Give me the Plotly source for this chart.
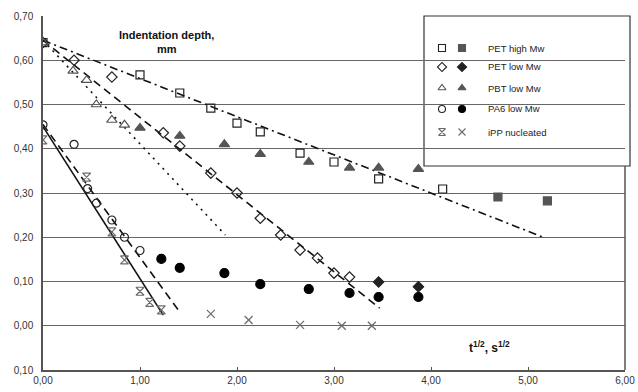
import plotly.graph_objects as go

# ---------------- data (x = t^1/2, y = indentation depth, mm) ----------------
pet_high_open_x = [0.0, 1.00, 1.41, 1.73, 2.00, 2.24, 2.65, 3.00, 3.46, 4.12]
pet_high_open_y = [0.640, 0.567, 0.526, 0.492, 0.458, 0.438, 0.390, 0.370, 0.332, 0.309]
pet_high_fill_x = [4.69, 5.20]
pet_high_fill_y = [0.291, 0.282]

pet_low_open_x = [0.0, 0.32, 0.71, 1.24, 1.41, 1.73, 2.00, 2.24, 2.45, 2.65, 2.83, 3.00, 3.16]
pet_low_open_y = [0.640, 0.600, 0.562, 0.436, 0.406, 0.345, 0.300, 0.243, 0.205, 0.171, 0.153, 0.119, 0.110]
pet_low_fill_x = [3.46, 3.87]
pet_low_fill_y = [0.099, 0.088]

pbt_open_x = [0.0, 0.31, 0.45, 0.55, 0.71, 0.84]
pbt_open_y = [0.640, 0.576, 0.555, 0.500, 0.465, 0.454]
pbt_fill_x = [1.00, 1.41, 1.87, 2.24, 2.74, 3.16, 3.46, 3.87]
pbt_fill_y = [0.447, 0.429, 0.410, 0.388, 0.370, 0.357, 0.357, 0.354]

pa6_open_x = [0.0, 0.32, 0.46, 0.55, 0.71, 0.84, 1.00]
pa6_open_y = [0.454, 0.410, 0.310, 0.277, 0.239, 0.200, 0.170]
pa6_fill_x = [1.22, 1.41, 1.87, 2.24, 2.74, 3.16, 3.46, 3.87]
pa6_fill_y = [0.151, 0.131, 0.119, 0.094, 0.083, 0.074, 0.065, 0.065]

ipp_open_x = [0.0, 0.45, 0.71, 0.84, 1.00, 1.10, 1.22]
ipp_open_y = [0.420, 0.336, 0.212, 0.149, 0.078, 0.053, 0.036]
ipp_thin_x = [1.73, 2.12, 2.65, 3.08, 3.39]
ipp_thin_y = [0.027, 0.013, 0.002, 0.000, 0.000]

# trend lines (end points)
trend_pet_high_x = [0.0, 5.18]
trend_pet_high_y = [0.645, 0.198]
trend_pet_low_x = [0.0, 3.47]
trend_pet_low_y = [0.645, 0.040]
trend_pbt_x = [0.0, 1.88]
trend_pbt_y = [0.645, 0.205]
trend_pa6_x = [0.0, 1.41]
trend_pa6_y = [0.455, 0.031]
trend_ipp_x = [0.0, 1.24]
trend_ipp_y = [0.450, 0.024]

y_tickvals = [0.7, 0.6, 0.5, 0.4, 0.3, 0.2, 0.1, 0.0, -0.1]
y_ticktext = ["0,70", "0,60", "0,50", "0,40", "0,30", "0,20", "0,10", "0,00", "0,10"]
x_tickvals = [0, 1, 2, 3, 4, 5, 6]
x_ticktext = ["0,00", "1,00", "2,00", "3,00", "4,00", "5,00", "6,00"]

legend_labels = ["PET high Mw", "PET low Mw", "PBT low Mw", "PA6 low Mw", "iPP nucleated"]
legend_open_symbols = ["square-open", "diamond-open", "triangle-up-open", "circle-open", "hourglass-open"]
legend_fill_symbols = ["square", "diamond", "triangle-up", "circle", "x-thin-open"]

# ---------------- styles ----------------
W, H = 638, 392
L, R, T, B = 43, 13, 16, 22
FONT = "Liberation Sans, Arial, sans-serif"
DARK = "#222222"
GREY = "#555555"
IPPC = "#6a6a6a"

fig = go.Figure()

def line(x, y, dash, width=1.6):
    fig.add_trace(go.Scatter(x=x, y=y, mode="lines", showlegend=False, hoverinfo="skip",
                             line=dict(color="#111111", width=width, dash=dash)))

line(trend_pet_high_x, trend_pet_high_y, "8px,4px,2px,4px")
line(trend_pet_low_x, trend_pet_low_y, "8px,5px")
line(trend_pbt_x, trend_pbt_y, "2px,5px")
line(trend_pa6_x, trend_pa6_y, "8px,5px")
line(trend_ipp_x, trend_ipp_y, "solid", 1.6)

def pts(x, y, symbol, color, size=8, lw=1.2):
    fig.add_trace(go.Scatter(x=x, y=y, mode="markers", showlegend=False,
                             marker=dict(symbol=symbol, size=size, color=color,
                                         line=dict(color=color, width=lw))))

pts(pet_high_open_x, pet_high_open_y, "square-open", DARK, 8)
pts(pet_high_fill_x, pet_high_fill_y, "square", GREY, 8)
pts(pet_low_open_x, pet_low_open_y, "diamond-open", DARK, 8)
pts(pet_low_fill_x, pet_low_fill_y, "diamond", DARK, 8)
pts(pbt_open_x, pbt_open_y, "triangle-up-open", GREY, 9)
pts(pbt_fill_x, pbt_fill_y, "triangle-up", GREY, 9)
pts(pa6_open_x, pa6_open_y, "circle-open", DARK, 8)
pts(pa6_fill_x, pa6_fill_y, "circle", "#000000", 9)
pts(ipp_open_x, ipp_open_y, "hourglass-open", IPPC, 8)
pts(ipp_thin_x, ipp_thin_y, "x-thin-open", IPPC, 8)

# ---------------- custom legend (box + markers on overlay axes) ----------------
plot_w = W - L - R
plot_h = H - T - B
def px_x(p):
    return (p - L) / plot_w
def px_y(p):
    return (H - B - p) / plot_h

legend_rows_px = [48, 67, 88, 109, 132]
legend_row_y = [px_y(p) for p in legend_rows_px]
legend_open_x = px_x(442)
legend_fill_x = px_x(462)
legend_text_x = px_x(486)

legend_colors_open = [DARK, DARK, GREY, DARK, IPPC]
legend_colors_fill = [GREY, DARK, GREY, "#000000", IPPC]
fig.add_trace(go.Scatter(x=[legend_open_x] * 5, y=legend_row_y, mode="markers", xaxis="x2", yaxis="y2",
                         showlegend=False, hoverinfo="skip",
                         marker=dict(symbol=legend_open_symbols, size=7, color=legend_colors_open,
                                     line=dict(color=legend_colors_open, width=1.1))))
fig.add_trace(go.Scatter(x=[legend_fill_x] * 5, y=legend_row_y, mode="markers", xaxis="x2", yaxis="y2",
                         showlegend=False, hoverinfo="skip",
                         marker=dict(symbol=legend_fill_symbols, size=7, color=legend_colors_fill,
                                     line=dict(color=legend_colors_fill, width=1.1))))

fig.add_shape(type="rect", xref="paper", yref="paper",
              x0=px_x(424), x1=px_x(630), y0=px_y(166), y1=px_y(16),
              fillcolor="white", line=dict(color="#333333", width=1.2), layer="between")

for lab, yy in zip(legend_labels, legend_row_y):
    fig.add_annotation(x=legend_text_x, y=yy, xref="paper", yref="paper", text=lab,
                       showarrow=False, xanchor="left", yanchor="middle",
                       font=dict(family=FONT, size=9.5, color="#222222"))

# title & axis label
fig.add_annotation(x=px_x(166), y=px_y(41.5), xref="paper", yref="paper",
                   text="<b>Indentation depth,<br>mm</b>", showarrow=False, align="center",
                   xanchor="center", yanchor="middle",
                   font=dict(family=FONT, size=11, color="#111111"))
fig.add_annotation(x=px_x(489), y=px_y(347), xref="paper", yref="paper",
                   text="<b>t<sup>1/2</sup>, s<sup>1/2</sup></b>", showarrow=False,
                   xanchor="center", yanchor="middle",
                   font=dict(family=FONT, size=12, color="#111111"))

fig.update_layout(
    width=W, height=H,
    margin=dict(l=L, r=R, t=T, b=B, pad=0, autoexpand=False),
    plot_bgcolor="white", paper_bgcolor="white",
    xaxis=dict(range=[0, 6], tickvals=x_tickvals, ticktext=x_ticktext, showgrid=False,
               automargin=False, ticklabeloverflow="allow",
               zeroline=False, showline=True, linecolor="#555555", linewidth=1.5, mirror=False,
               ticks="inside", ticklen=3, tickcolor="#555555",
               tickfont=dict(family=FONT, size=10, color="#333333")),
    yaxis=dict(range=[-0.1, 0.7], tickvals=y_tickvals, ticktext=y_ticktext, showgrid=True,
               automargin=False,
               gridcolor="#666666", gridwidth=1.3, zeroline=False, showline=True,
               linecolor="#555555", linewidth=1.5, ticks="", ticklabelstandoff=6,
               tickfont=dict(family=FONT, size=10, color="#333333")),
    xaxis2=dict(range=[0, 1], overlaying="x", visible=False, automargin=False),
    yaxis2=dict(range=[0, 1], overlaying="y", visible=False, automargin=False),
)
# right border of plot area (below the legend box)
fig.add_shape(type="line", xref="paper", yref="paper", x0=1, x1=1, y0=0, y1=px_y(166),
              line=dict(color="#555555", width=1.5))

fig.write_html("out.html")
